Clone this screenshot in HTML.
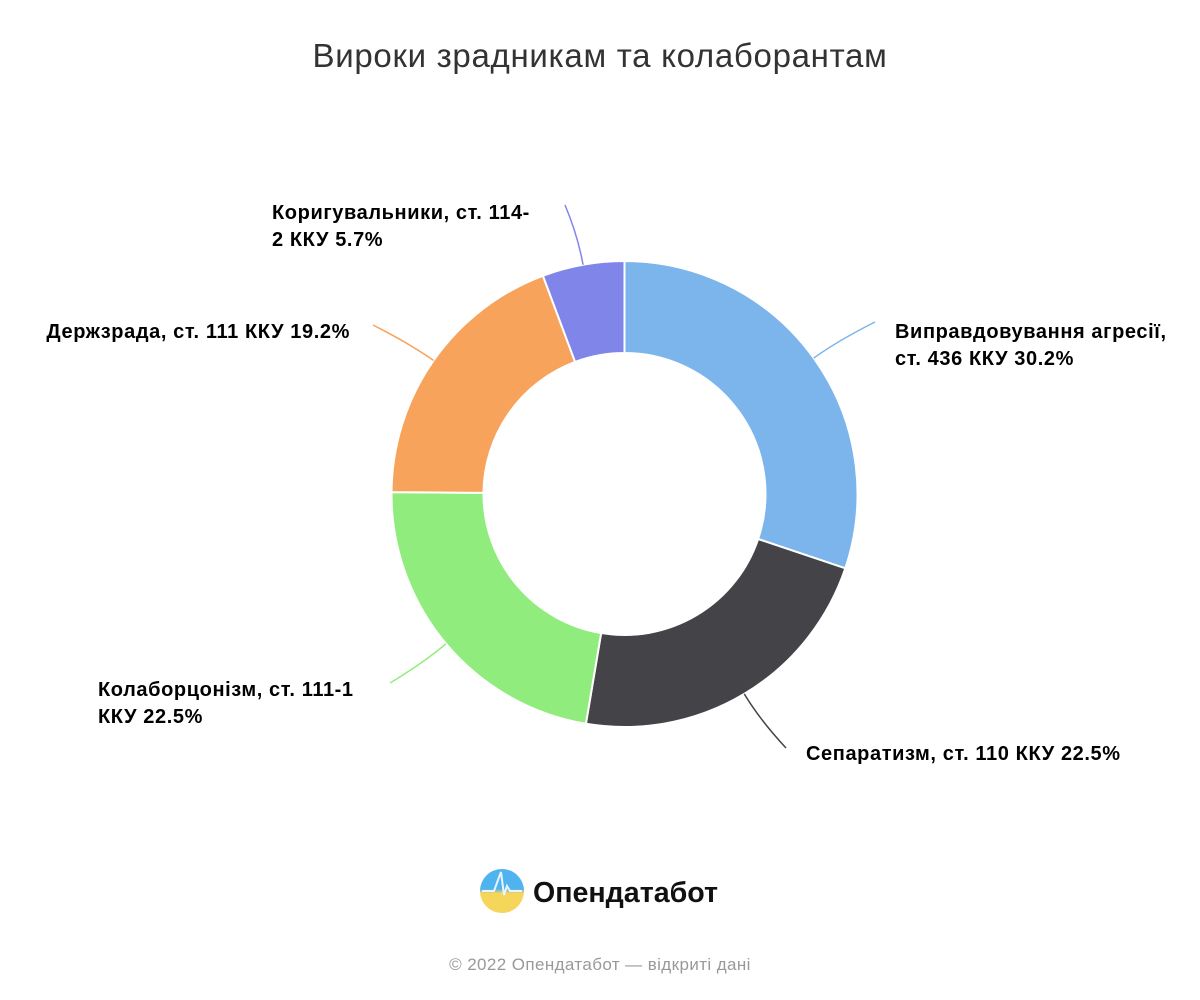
<!DOCTYPE html>
<html><head><meta charset="utf-8"><style>
body{margin:0;background:#fff;width:1200px;height:1000px;overflow:hidden;font-family:"Liberation Sans","DejaVu Sans",sans-serif}
svg{position:absolute;left:0;top:0}
</style></head><body>
<svg width="1200" height="1000">
<text x="600" y="67" text-anchor="middle" font-size="33" letter-spacing="0.7" fill="#333">Вироки зрадникам та колаборантам</text>
<g id="slices"></g><g id="labels"></g>
<g>
<defs><linearGradient id="lg" x1="0" y1="0" x2="0" y2="1"><stop offset="0.45" stop-color="#4fb3f0"/><stop offset="0.55" stop-color="#f5d65a"/></linearGradient></defs>
<circle cx="502" cy="891" r="22" fill="url(#lg)"/>
<polyline points="482,891 494,891 498,880 501,872 504,895 507,886 510,891 522,891" fill="none" stroke="#e8f4ff" stroke-width="2"/>
<text x="533" y="902" font-size="29" font-weight="bold" fill="#111" textLength="185" lengthAdjust="spacingAndGlyphs">Опендатабот</text>
</g>
<text x="600" y="970" text-anchor="middle" font-size="17" letter-spacing="0.4" fill="#999">© 2022 Опендатабот — відкриті дані</text>
</svg>
<script>
const categories=["Виправдовування агресії, ст. 436 ККУ","Сепаратизм, ст. 110 ККУ","Колаборцонізм, ст. 111-1 ККУ","Держзрада, ст. 111 ККУ","Коригувальники, ст. 114-2 ККУ"];
const values=[30.2,22.5,22.5,19.2,5.7];
const colors=["#7cb5ec","#434348","#90ed7d","#f7a35c","#8085e9"];
const labelLines=[["Виправдовування агресії,","ст. 436 ККУ 30.2%"],["Сепаратизм, ст. 110 ККУ 22.5%"],["Колаборцонізм, ст. 111-1","ККУ 22.5%"],["Держзрада, ст. 111 ККУ 19.2%"],["Коригувальники, ст. 114-","2 ККУ 5.7%"]];
const cx=624.5,cy=494,R=233,r=141;
const lay=[{ex:875,ey:322,tx:895,ty:338,a:"start"},{ex:786,ey:748,tx:806,ty:760,a:"start"},{ex:390,ey:683,tx:98,ty:696,a:"start"},{ex:373,ey:325,tx:350,ty:338,a:"end"},{ex:565,ey:205,tx:272,ty:219,a:"start"}];
const NS="http://www.w3.org/2000/svg";
const total=values.reduce((a,b)=>a+b,0);
const pt=(ang,rad)=>[cx+rad*Math.sin(ang),cy-rad*Math.cos(ang)];
let acc=0;
const gs=document.getElementById("slices"),gl=document.getElementById("labels");
values.forEach((v,i)=>{
 const a0=acc/total*2*Math.PI;acc+=v;const a1=acc/total*2*Math.PI;
 const big=(a1-a0)>Math.PI?1:0;
 const [x0,y0]=pt(a0,R),[x1,y1]=pt(a1,R),[x2,y2]=pt(a1,r),[x3,y3]=pt(a0,r);
 const p=document.createElementNS(NS,"path");
 p.setAttribute("d",`M${x0},${y0}A${R},${R} 0 ${big} 1 ${x1},${y1}L${x2},${y2}A${r},${r} 0 ${big} 0 ${x3},${y3}Z`);
 p.setAttribute("fill",colors[i]);p.setAttribute("stroke","#fff");p.setAttribute("stroke-width","2");
 
 
 gs.appendChild(p);
 const am=(a0+a1)/2;const [sx,sy]=pt(am,R);const [qx,qy]=pt(am,R+30);
 const L=lay[i];
 const c=document.createElementNS(NS,"path");
 c.setAttribute("d",`M${sx},${sy}Q${qx},${qy} ${L.ex},${L.ey}`);
 c.setAttribute("fill","none");c.setAttribute("stroke",colors[i]);c.setAttribute("stroke-width","1.5");
 
 
 gl.appendChild(c);
 const t=document.createElementNS(NS,"text");
 t.setAttribute("font-size","20");t.setAttribute("font-weight","bold");t.setAttribute("fill","#000");
 t.setAttribute("letter-spacing","0.6");
 
 
 if(L.a==="end")t.setAttribute("text-anchor","end");
 labelLines[i].forEach((s,k)=>{const ts=document.createElementNS(NS,"tspan");
  ts.setAttribute("y",L.ty+k*27);ts.setAttribute("x",L.tx);
  ts.textContent=s;t.appendChild(ts);});
 gl.appendChild(t);
});
</script>
</body></html>
